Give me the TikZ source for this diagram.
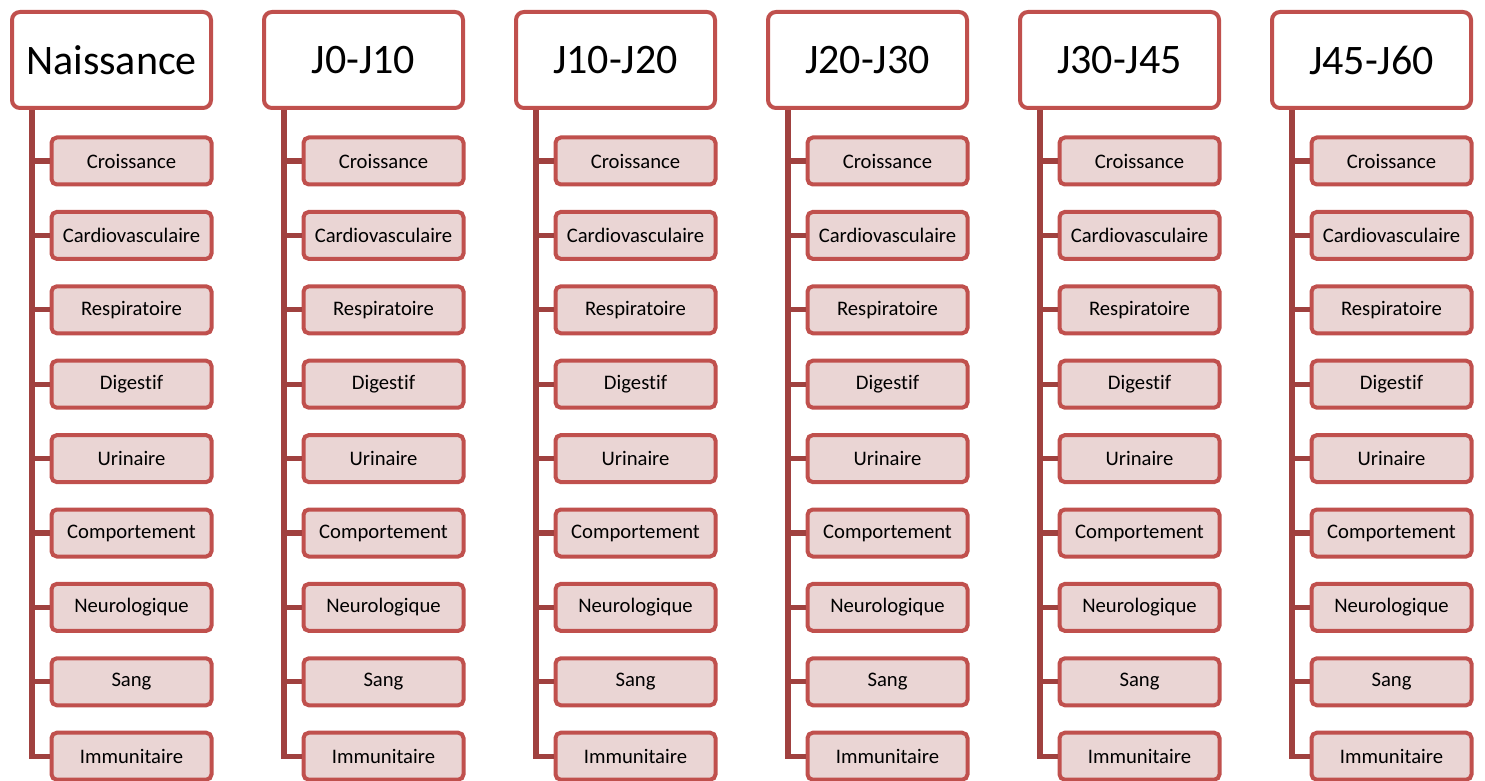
\documentclass[tikz,border=0pt]{standalone}
\usepackage{fontspec}
\setmainfont{Carlito}[RawFeature={-liga;-dlig;-clig}]
\definecolor{boxred}{HTML}{C0504D}
\definecolor{linkred}{HTML}{A0413F}
\definecolor{childfill}{HTML}{EAD5D4}
\begin{document}
\begin{tikzpicture}[x=0.75pt,y=-0.75pt,
  headbox/.style={draw=boxred,line width=3pt,fill=white,rounded corners=6pt,
    minimum width=199*0.75pt,minimum height=96*0.75pt,inner sep=0pt,
    font=\fontsize{31.5pt}{36pt}\selectfont},
  childbox/.style={draw=boxred,line width=3pt,fill=childfill,rounded corners=4pt,
    minimum width=160*0.75pt,minimum height=47*0.75pt,inner sep=0pt,
    font=\fontsize{15.5pt}{18pt}\selectfont},
  link/.style={draw=linkred,line width=3.8pt}]
\useasboundingbox (0,0) rectangle (1485,781);
\fill[white] (0,0) rectangle (1485,781);
\foreach \t [count=\i] in {Naissance,J0-J10,J10-J20,J20-J30,J30-J45,J45-J60}{
  \pgfmathsetmacro{\xl}{10+252*(\i-1)}
  \coordinate (t\i) at (\xl+22,109);
  \foreach \c [count=\j] in {Croissance,Cardiovasculaire,Respiratoire,Digestif,Urinaire,Comportement,Neurologique,Sang,Immunitaire}{
    \pgfmathsetmacro{\yc}{161+74.4*(\j-1)}
    \node[childbox] (c\i-\j) at (\xl+121.5,\yc) {\c};
    \draw[link] (t\i) |- (c\i-\j.west);
  }
  \node[headbox] (h\i) at (\xl+101.5,60) {\t};
}
\end{tikzpicture}
\end{document}
